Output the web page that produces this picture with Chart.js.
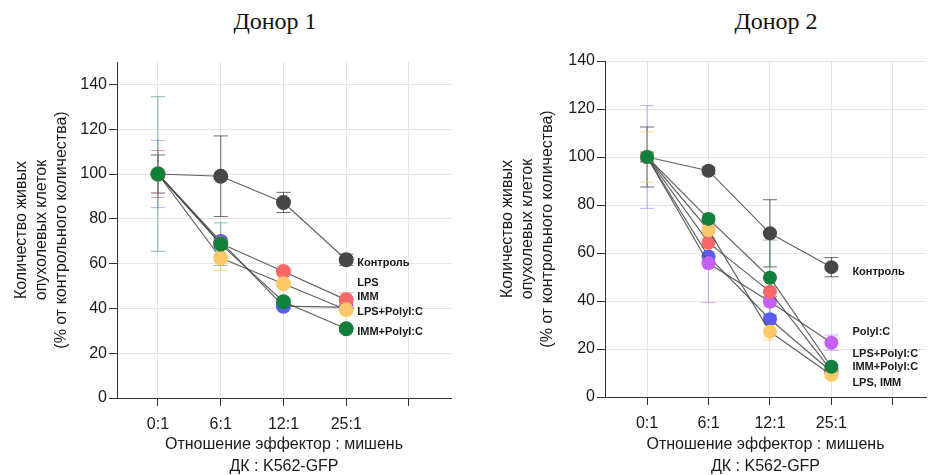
<!DOCTYPE html>
<html lang="ru">
<head>
<meta charset="UTF-8">
<title>Донор 1 / Донор 2</title>
<script src="https://cdn.jsdelivr.net/npm/chart.js"></script>
<style>
  body { margin: 0; background: #fff; }
  .panel { position: absolute; top: 0; }
  .ttl { position: absolute; top: 8px; width: 200px; text-align: center;
         font-family: "Liberation Serif", "Times New Roman", serif; font-size: 24px; color: #111; }
</style>
</head>
<body>

<div class="ttl" style="left:175px;">Донор 1</div>
<div class="ttl" style="left:676px;">Донор 2</div>
<div class="panel" style="left:0;"><canvas id="chart1" width="466" height="475"></canvas></div>
<div class="panel" style="left:466px;"><canvas id="chart2" width="467" height="475"></canvas></div>

<script>
    // x categories
    var ratios = ['0:1', '6:1', '12:1', '25:1'];

    // Донор 1 - means and errors (% of control)
    var d1Control = [100, 99, 87.3, 61.7];
    var d1ControlErr = [8.5, 18, 4.5, 2.5];
    var d1Lps = [100, 69.9, 41, 40.5];
    var d1LpsErr = [15, 1.6, 1.5, 1];
    var d1Imm = [100, 69, 56.5, 43.8];
    var d1ImmErr = [10.5, 2, 1.5, 3.2];
    var d1LpsPoly = [100, 62.5, 51, 39.4];
    var d1LpsPolyErr = [2, 5.5, 1.5, 1];
    var d1ImmPoly = [100, 68.7, 43, 30.9];
    var d1ImmPolyErr = [34.5, 9.5, 1.5, 1];

    // Донор 2
    var d2Control = [100, 94.3, 68.2, 54.1];
    var d2ControlErr = [12.5, 1.5, 14, 4];
    var d2Lps = [100, 69.6, 27.2, 9.2];
    var d2LpsErr = [10.5, 1.5, 3.5, 1];
    var d2Imm = [100, 64.3, 43.9, 11];
    var d2ImmErr = [2, 2, 2, 1];
    var d2Poly = [100, 55.7, 39.7, 22.6];
    var d2PolyErr = [2, 16.4, 2, 3.2];
    var d2LpsPoly = [100, 58.5, 32.4, 10.5];
    var d2LpsPolyErr = [21.4, 2, 2, 1];
    var d2ImmPoly = [100, 74.2, 49.7, 12.6];
    var d2ImmPolyErr = [2, 1.5, 15.7, 1];

    // text labels at the 25:1 end (value where the label sits)
    var d1Labels = ['Контроль', 'LPS', 'IMM', 'LPS+PolyI:C', 'IMM+PolyI:C'];
    var d1LabelValues = [60.2, 51.3, 44.9, 38.6, 29.7];
    var d2Labels = ['Контроль', 'PolyI:C', 'LPS+PolyI:C', 'IMM+PolyI:C', 'LPS, IMM'];
    var d2LabelValues = [52.2, 27.2, 17.9, 12.4, 5.7];

    var yTitle = ['Количество живых', 'опухолевых клеток', '(% от контрольного количества)'];
    var xTitle = ['Отношение эффектор : мишень', 'ДК : K562-GFP'];

    var colors = {
        control: '#464646',
        green: '#12803d',
        yellow: '#fdc86a',
        red: '#f96868',
        blue: '#5b5cf1',
        purple: '#c460f3'
    };
    var errColors = {
        control: 'rgba(70,70,70,0.8)',
        green: 'rgba(18,128,61,0.5)',
        yellow: 'rgba(250,190,70,0.6)',
        red: 'rgba(240,90,90,0.6)',
        blue: 'rgba(90,90,240,0.45)',
        purple: 'rgba(196,96,243,0.55)'
    };

    function points(values) {
        return values.map(function (v, i) { return { x: i, y: v }; });
    }

    function series(values, errors, colorName, radius) {
        return {
            data: points(values),
            errors: errors,
            errorColor: errColors[colorName],
            borderColor: 'rgba(70,70,70,0.85)',
            borderWidth: 1.2,
            pointRadius: radius,
            pointHoverRadius: radius,
            pointBackgroundColor: colors[colorName],
            pointBorderColor: colors[colorName],
            pointBorderWidth: 0,
            fill: false,
            tension: 0
        };
    }

    // draws vertical error bars with caps behind the points
    var errorBars = {
        id: 'errorBars',
        beforeDatasetsDraw: function (chart) {
            var ctx = chart.ctx;
            var xs = chart.scales.x, ys = chart.scales.y;
            ctx.save();
            ctx.lineWidth = 1;
            for (var d = chart.data.datasets.length - 1; d >= 0; d--) {
                var ds = chart.data.datasets[d];
                ctx.strokeStyle = ds.errorColor;
                ds.data.forEach(function (p, i) {
                    var px = xs.getPixelForValue(p.x);
                    var top = ys.getPixelForValue(p.y + ds.errors[i]);
                    var bot = ys.getPixelForValue(p.y - ds.errors[i]);
                    ctx.beginPath();
                    ctx.moveTo(px, top); ctx.lineTo(px, bot);
                    ctx.moveTo(px - 7, top); ctx.lineTo(px + 7, top);
                    ctx.moveTo(px - 7, bot); ctx.lineTo(px + 7, bot);
                    ctx.stroke();
                });
            }
            ctx.restore();
        }
    };

    // group names written next to the last column
    var endLabels = {
        id: 'endLabels',
        afterDatasetsDraw: function (chart, args, opts) {
            var ctx = chart.ctx;
            var px = chart.scales.x.getPixelForValue(ratios.length - 1) + opts.offset;
            ctx.save();
            ctx.font = 'bold 11px "Liberation Sans", Arial, sans-serif';
            ctx.fillStyle = '#1a1a1a';
            ctx.textAlign = 'left';
            ctx.textBaseline = 'middle';
            opts.texts.forEach(function (t, i) {
                ctx.fillText(t, px, chart.scales.y.getPixelForValue(opts.values[i]));
            });
            ctx.restore();
        }
    };

    function makeChart(id, datasets, o) {
        var font = { family: '"Liberation Sans", Arial, sans-serif', size: 16 };
        return new Chart(document.getElementById(id), {
            type: 'line',
            data: { datasets: datasets },
            plugins: [errorBars, endLabels],
            options: {
                responsive: false,
                animation: false,
                events: [],
                layout: { padding: { left: 0, top: o.top, right: o.right, bottom: 0 } },
                plugins: {
                    legend: { display: false },
                    tooltip: { enabled: false },
                    endLabels: { texts: o.labels, values: o.labelValues, offset: o.labelOffset }
                },
                scales: {
                    x: {
                        type: 'linear',
                        min: o.xMin,
                        max: o.xMax,
                        afterFit: function (s) {
                            s.height = o.xHeight;
                            s.paddingLeft = 0;
                            s.paddingRight = 0;
                        },
                        ticks: {
                            stepSize: 1,
                            includeBounds: false,
                            font: font,
                            color: '#1a1a1a',
                            padding: 9,
                            maxRotation: 0,
                            callback: function (v) { return ratios[v] !== undefined ? ratios[v] : ''; }
                        },
                        grid: { color: '#e4e4e4', tickColor: '#333', tickLength: 8 },
                        border: { color: '#333', width: 1 },
                        title: {
                            display: true,
                            text: xTitle,
                            font: { family: font.family, size: 16, lineHeight: 1.4 },
                            color: '#1a1a1a',
                            padding: { top: 0, bottom: -3 }
                        }
                    },
                    y: {
                        min: 0,
                        max: o.yMax,
                        afterFit: function (s) { s.width = o.yWidth; },
                        ticks: { stepSize: 20, includeBounds: false, font: font, color: '#1a1a1a', padding: 2 },
                        grid: { color: '#e4e4e4', tickColor: '#333', tickLength: 8 },
                        border: { color: '#333', width: 1 },
                        title: {
                            display: true,
                            text: yTitle,
                            font: { family: font.family, size: 16, lineHeight: 1.25 },
                            color: '#1a1a1a',
                            padding: { top: o.yTitlePad, bottom: 0 }
                        }
                    }
                }
            }
        });
    }

    // dataset 0 is drawn on top
    makeChart('chart1', [
        series(d1ImmPoly, d1ImmPolyErr, 'green', 7.5),
        series(d1LpsPoly, d1LpsPolyErr, 'yellow', 7.5),
        series(d1Imm, d1ImmErr, 'red', 7.5),
        series(d1Lps, d1LpsErr, 'blue', 7.5),
        series(d1Control, d1ControlErr, 'control', 7.5)
    ], {
        top: 62, right: 15, xMin: -0.653, xMax: 4.67, yMax: 150,
        xHeight: 77, yWidth: 117, yTitlePad: 12,
        labels: d1Labels, labelValues: d1LabelValues, labelOffset: 11
    });

    makeChart('chart2', [
        series(d2ImmPoly, d2ImmPolyErr, 'green', 7),
        series(d2Lps, d2LpsErr, 'yellow', 7),
        series(d2Imm, d2ImmErr, 'red', 7),
        series(d2Poly, d2PolyErr, 'purple', 7),
        series(d2LpsPoly, d2LpsPolyErr, 'blue', 7),
        series(d2Control, d2ControlErr, 'control', 7)
    ], {
        top: 61, right: 0, xMin: -0.685, xMax: 4.54, yMax: 140,
        xHeight: 78, yWidth: 139, yTitlePad: 32,
        labels: d2Labels, labelValues: d2LabelValues, labelOffset: 21
    });
</script>

</body>
</html>
